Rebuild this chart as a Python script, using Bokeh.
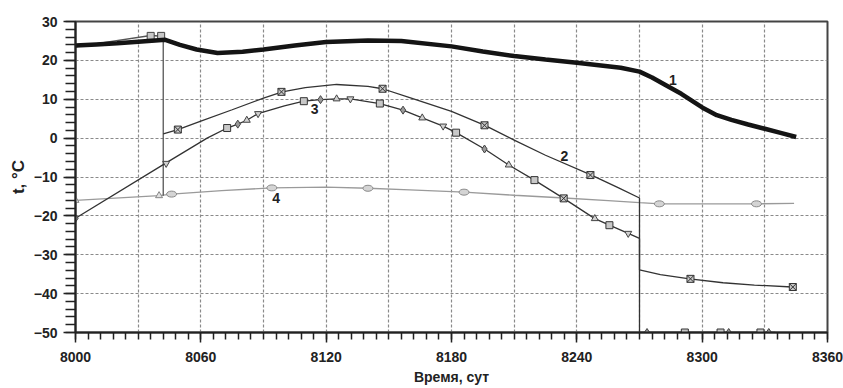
from bokeh.plotting import figure
from bokeh.models import FixedTicker
from bokeh.core.properties import value
from bokeh.embed import file_html
from bokeh.resources import INLINE

# ---- data ----
# curve 1 (thick)
s1_x = [8000, 8010, 8020, 8030, 8043, 8050, 8058, 8068, 8080, 8090, 8105, 8120, 8140, 8156,
        8180, 8195, 8210, 8225, 8240, 8261, 8270, 8276, 8282, 8290, 8300, 8307, 8314, 8322,
        8330, 8338, 8345]
s1_y = [23.8, 24.1, 24.4, 24.8, 25.3, 24.0, 22.8, 21.9, 22.2, 22.8, 23.8, 24.7, 25.1, 25.0,
        23.6, 22.3, 21.1, 20.2, 19.4, 18.1, 17.1, 15.6, 13.8, 11.4, 7.9, 5.9, 4.7, 3.5,
        2.4, 1.3, 0.3]

# short thin curve with squares (drop at ~8042)
sa_x = [8000, 8036, 8042, 8042]
sa_y = [23.5, 26.4, 26.2, -14.8]
sa_mx = [8036, 8041]
sa_my = [26.3, 26.3]

# curve 2
s2_x = [8042, 8049, 8060, 8075, 8090, 8099, 8110, 8125, 8140, 8147, 8160, 8180, 8196, 8210,
        8225, 8247, 8260, 8270, 8270, 8280, 8294, 8310, 8325, 8343]
s2_y = [1.1, 2.2, 4.4, 7.3, 10.3, 11.9, 13.0, 13.8, 13.3, 12.7, 10.4, 6.9, 3.3, -0.5,
        -4.4, -9.5, -12.8, -15.4, -33.9, -35.1, -36.2, -37.2, -37.8, -38.3]
s2_mx = [8049, 8098.6, 8147, 8195.8, 8246.5, 8294.4, 8343.4]
s2_my = [2.2, 11.9, 12.7, 3.3, -9.5, -36.2, -38.3]

# curve 3
s3_x = [8000, 8043, 8063, 8072.6, 8077.7, 8082, 8087.4, 8100, 8109.3, 8117.3, 8125, 8131.6,
        8145.7, 8156.8, 8166, 8176, 8182.2, 8195.8, 8207.4, 8219.7, 8233.7, 8248.6, 8255.6,
        8264.6, 8270, 8270, 8335]
s3_y = [-20.6, -6.5, 0.0, 2.6, 3.6, 4.6, 6.3, 8.3, 9.5, 9.9, 10.1, 10.1,
        8.9, 7.2, 5.2, 3.1, 1.4, -2.8, -6.9, -10.8, -15.5, -20.7, -22.4,
        -24.5, -25.8, -50, -50]
s3_square_x = [8072.6, 8109.3, 8145.7, 8182.2, 8219.7, 8255.6, 8291.7, 8308.8, 8327.9]
s3_square_y = [2.6, 9.5, 8.9, 1.4, -10.8, -22.4, -50, -50, -50]
s3_diamond_x = [8000, 8077.7, 8117.3, 8156.8, 8195.8, 8273.6, 8312.7, 8331.9]
s3_diamond_y = [-20.6, 3.6, 9.9, 7.2, -2.8, -50, -50, -50]
s3_tri_x = [8082, 8125, 8166, 8207.4, 8248.6]
s3_tri_y = [4.6, 10.1, 5.2, -6.9, -20.7]
s3_itri_x = [8043.4, 8087.4, 8131.6, 8176, 8264.6]
s3_itri_y = [-6.5, 6.3, 10.1, 3.1, -24.5]
s3_bow_x = [8233.7]
s3_bow_y = [-15.5]

# curve 4 (light grey)
s4_x = [8000, 8040, 8046, 8070, 8094, 8120, 8140, 8160, 8186, 8210, 8234, 8255, 8270, 8280,
        8300, 8326, 8344]
s4_y = [-16.0, -14.8, -14.4, -13.5, -12.8, -12.6, -12.9, -13.3, -13.9, -14.7, -15.4, -16.1,
        -16.6, -16.9, -16.9, -16.9, -16.8]
s4_cx = [8046, 8094, 8140, 8186, 8279.5, 8326]
s4_cy = [-14.4, -12.8, -12.9, -13.9, -16.9, -16.9]
s4_tx = [8000, 8040]
s4_ty = [-16.0, -14.8]

# curve numbers
lab_x = [8286, 8234, 8114.5, 8096]
lab_y = [14.9, -4.6, 7.4, -15.5]
lab_t = ["1", "2", "3", "4"]

# ticks
x_labeled = [8000, 8060, 8120, 8180, 8240, 8300, 8360]
x_grid = list(range(8000, 8361, 30))
x_minor = list(range(8000, 8361, 6))
y_ticks = list(range(-50, 31, 10))
y_minor = list(range(-50, 31, 2))

FONT = "Liberation Sans"

p = figure(width=843, height=388, x_range=(8000, 8360), y_range=(-50, 30),
           output_backend="svg", toolbar_location=None,
           min_border_left=75, min_border_right=16, min_border_top=21, min_border_bottom=56)
p.background_fill_color = "white"
p.border_fill_color = "white"
p.outline_line_color = "#444444"
p.outline_line_width = 2

p.xaxis.ticker = FixedTicker(ticks=x_labeled, minor_ticks=x_minor)
p.yaxis.ticker = FixedTicker(ticks=y_ticks, minor_ticks=y_minor)
p.xgrid.ticker = FixedTicker(ticks=x_grid)
p.ygrid.ticker = FixedTicker(ticks=y_ticks)
for g in (p.xgrid, p.ygrid):
    g.grid_line_color = "#8a8a8a"
    g.grid_line_dash = "3 2"
    g.grid_line_width = 1.2

for ax in (p.xaxis, p.yaxis):
    ax.axis_line_color = "#222222"
    ax.axis_line_width = 2
    ax.major_tick_in = 0
    ax.minor_tick_in = 0
    ax.major_tick_line_color = "#222222"
    ax.minor_tick_line_color = "#222222"
    ax.major_tick_line_width = 1.5
    ax.minor_tick_line_width = 1.5
    ax.major_label_text_font = FONT
    ax.major_label_text_font_style = "bold"
    ax.major_label_text_font_size = "14px"
    ax.major_label_text_color = "#222222"
    ax.axis_label_text_font = FONT
    ax.axis_label_text_color = "#222222"

p.xaxis.major_tick_out = 10
p.xaxis.minor_tick_out = 7
p.xaxis.major_label_standoff = 9
p.xaxis.axis_label = "Время, сут"
p.xaxis.axis_label_text_font_size = "14px"
p.xaxis.axis_label_text_font_style = "bold"
p.xaxis.axis_label_standoff = 4

p.yaxis.major_tick_out = 12
p.yaxis.minor_tick_out = 10
p.yaxis.major_label_standoff = 6
p.yaxis.axis_label = "t, °C"
p.yaxis.axis_label_text_font_size = "17px"
p.yaxis.axis_label_text_font_style = "bold"
p.yaxis.axis_label_standoff = 3

# curve 4
p.line(s4_x, s4_y, line_color="#9a9a9a", line_width=1.3)
p.ellipse(s4_cx, s4_cy, width=10, height=6, width_units="screen", height_units="screen",
          fill_color="#d4d4d4", line_color="#8a8a8a", line_width=1)
p.scatter(s4_tx, s4_ty, marker="triangle", size=7, fill_color="#e0e0e0", line_color="#888888")

# thin squares curve
p.line(sa_x, sa_y, line_color="#555555", line_width=1.3)
p.scatter(sa_mx, sa_my, marker="square", size=7, fill_color="#c8c8c8", line_color="#444444")

# curve 2
p.line(s2_x, s2_y, line_color="#333333", line_width=1.3)
p.scatter(s2_mx, s2_my, marker="square_x", size=7, fill_color="#c8c8c8", line_color="#333333")

# curve 3
p.line(s3_x, s3_y, line_color="#333333", line_width=1.3)
p.scatter(s3_square_x, s3_square_y, marker="square", size=7, fill_color="#c8c8c8", line_color="#333333")
p.scatter(s3_diamond_x, s3_diamond_y, marker="diamond", size=8, fill_color="#9a9a9a", line_color="#444444")
p.scatter(s3_tri_x, s3_tri_y, marker="triangle", size=7, fill_color="#d0d0d0", line_color="#444444")
p.scatter(s3_itri_x, s3_itri_y, marker="inverted_triangle", size=7, fill_color="#d0d0d0", line_color="#444444")
p.scatter(s3_bow_x, s3_bow_y, marker="square_x", size=7, fill_color="#c8c8c8", line_color="#333333")

# curve 1
p.line(s1_x, s1_y, line_color="#141414", line_width=4.5)

p.text(x=lab_x, y=lab_y, text=lab_t, text_font=value(FONT), text_font_style="bold",
       text_font_size="14px", text_align="center", text_baseline="middle", text_color="#222222")

open("out.html", "w").write(file_html(p, INLINE))
